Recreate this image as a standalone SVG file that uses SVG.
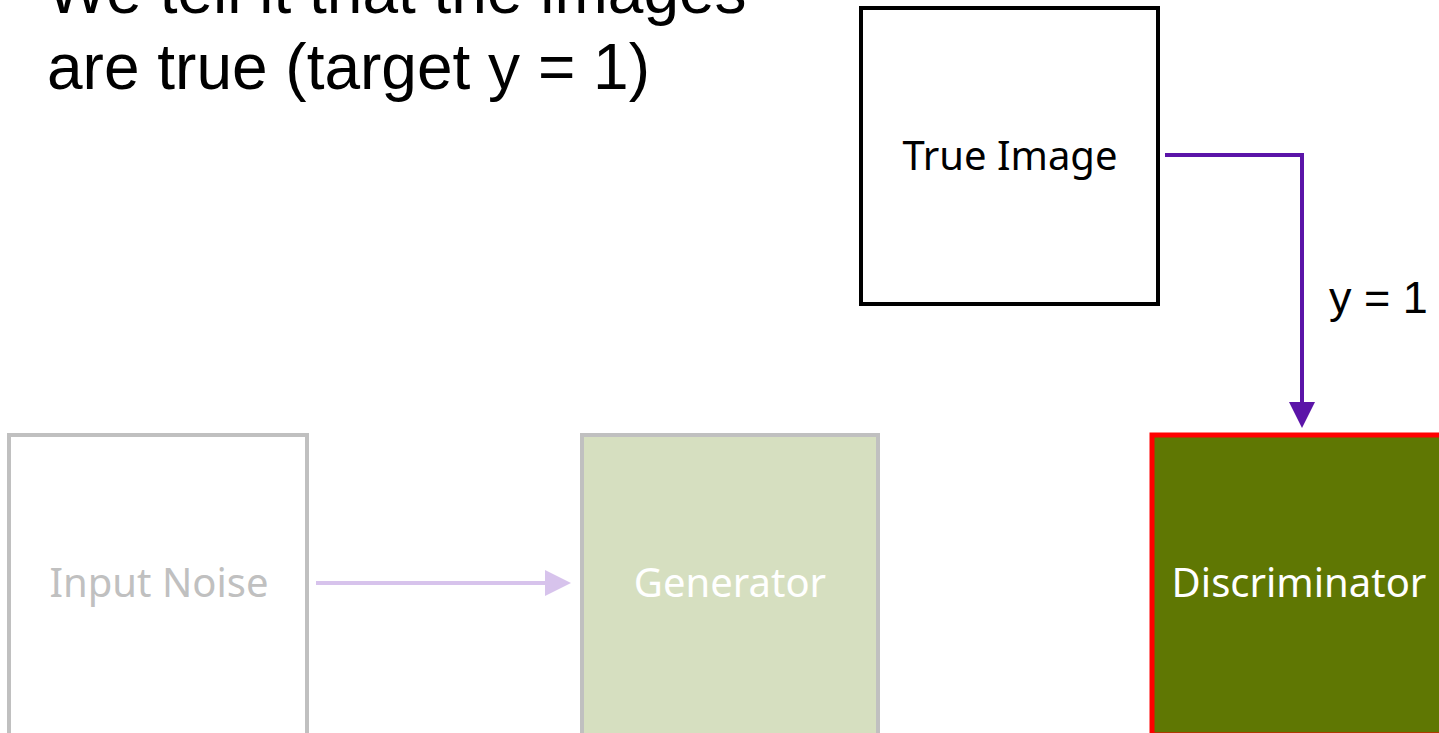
<svg xmlns="http://www.w3.org/2000/svg" width="1439" height="733" viewBox="0 0 1439 733">
<style>
.title{font-family:"Liberation Sans",Arial,sans-serif;font-size:64px;fill:#000}
.lbl{font-family:"Noto Sans","Open Sans",sans-serif;font-size:40px;text-anchor:middle}
.edge{font-family:"Liberation Sans",Arial,sans-serif;font-size:45px;fill:#000}
</style>
<defs>
<marker id="ap" markerWidth="6.5" markerHeight="6.5" refX="4.5" refY="3.25" orient="auto" markerUnits="strokeWidth"><path d="M0,0 L6.5,3.25 L0,6.5 Z" fill="#5b14a8"/></marker>
<marker id="al" markerWidth="6.5" markerHeight="6.5" refX="4.5" refY="3.25" orient="auto" markerUnits="strokeWidth"><path d="M0,0 L6.5,3.25 L0,6.5 Z" fill="#d7c3ec"/></marker>
</defs>
<rect width="1439" height="733" fill="#fff"/>
<text class="title" x="47" y="13">We tell it that the images</text>
<text class="title" x="47" y="89">are true (target y = 1)</text>
<g id="true-image">
<rect x="861" y="8" width="297" height="296" fill="#fff" stroke="#000" stroke-width="4"/>
<text class="lbl" x="1010" y="170" fill="#000">True Image</text>
</g>
<g id="input-noise">
<rect x="9" y="435" width="298" height="300" fill="#fff" stroke="#c0c0c0" stroke-width="4"/>
<text class="lbl" x="159" y="597" fill="#c0c0c0">Input Noise</text>
</g>
<g id="generator">
<rect x="582" y="435" width="296" height="300" fill="#d6dfc0" stroke="#c0c0c0" stroke-width="4"/>
<text class="lbl" x="730" y="597" fill="#fff">Generator</text>
</g>
<g id="discriminator">
<rect x="1152" y="435" width="292" height="300" fill="#5f7703" stroke="#ff0000" stroke-width="5"/>
<text class="lbl" x="1299" y="597" fill="#fff">Discriminator</text>
</g>
<g id="connectors">
<path d="M1165,155 H1302 V420" fill="none" stroke="#5b14a8" stroke-width="4" marker-end="url(#ap)"/>
<path d="M316,583 H563" fill="none" stroke="#d7c3ec" stroke-width="4" marker-end="url(#al)"/>
<text class="edge" x="1329" y="313">y = 1</text>
</g>
</svg>
